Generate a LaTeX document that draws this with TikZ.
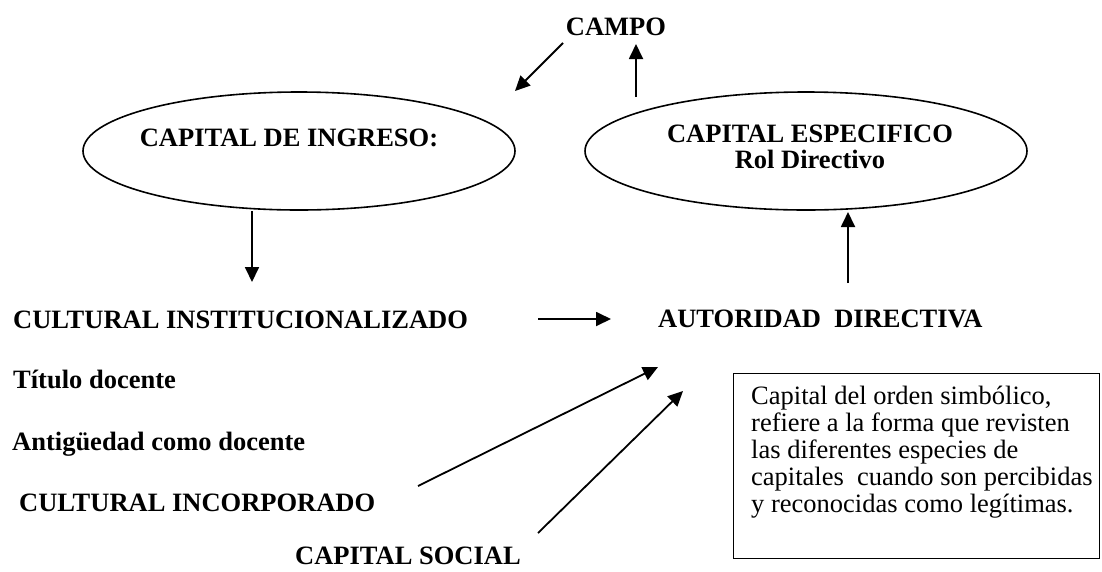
\documentclass[tikz,border=0pt]{standalone}
\usepackage{fontspec}
\setmainfont{Liberation Serif}
\usetikzlibrary{positioning,shapes.geometric,arrows.meta}

\tikzset{
  rotulo/.style={font=\fontsize{26.5}{30}\selectfont\bfseries, inner sep=0pt},
  flecha/.style={-{Triangle[length=15pt,width=14pt]}, line width=1.8pt},
  elipse/.style={draw, ellipse, line width=1.6pt, inner sep=0pt, minimum height=118pt},
}

\begin{document}
\begin{tikzpicture}[x=1pt,y=-1pt]
\useasboundingbox (0,0) rectangle (1102,571);

\node(campo)       [rotulo, anchor=base] at (616,35) {CAMPO};

\node(ingreso)     [elipse, minimum width=432pt] at (299,151) {};
\node(especifico)  [elipse, minimum width=442pt] at (806,151) {};
\node(tingreso)    [rotulo, anchor=base] at (289,146) {CAPITAL DE INGRESO:};
\node(tespecifico) [rotulo, anchor=base] at (810,142) {CAPITAL ESPECIFICO};
\node(rol)         [rotulo, anchor=base] at (810,168) {Rol Directivo};

\node(institucional) [rotulo, anchor=base west] at (13,328) {CULTURAL INSTITUCIONALIZADO};
\node(autoridad)     [rotulo, anchor=base west] at (658,327) {AUTORIDAD\ \ DIRECTIVA};
\node(titulo)        [rotulo, anchor=base west] at (13,388) {Título docente};
\node(antiguedad)    [rotulo, anchor=base west] at (12,450) {Antigüedad como docente};
\node(incorporado)   [rotulo, anchor=base west] at (19,511) {CULTURAL INCORPORADO};
\node(social)        [rotulo, anchor=base west] at (295,564) {CAPITAL SOCIAL};

\node(caja)  [draw, line width=1.4pt, minimum width=366pt, minimum height=185pt,
              anchor=north west] at (733,373) {};
\node(texto) [anchor=north west, inner sep=0pt, align=left,
              font=\fontsize{26.5}{27}\selectfont] at (751,386)
{Capital del orden simbólico,\\ refiere a la forma que revisten\\ las diferentes especies de\\
 capitales\ \ cuando son percibidas\\ y reconocidas como legítimas.};

% extremos de las flechas
\coordinate(campoA)  at (563,43);
\coordinate(campoB)  at (515,91);
\coordinate(subeA)   at (636,97);
\coordinate(subeB)   at (636,44);
\coordinate(bajaA)   at (252,211);
\coordinate(bajaB)   at (252,282);
\coordinate(hacia)   at (538,319);
\coordinate(llega)   at (611,319);
\coordinate(rolA)    at (848,283);
\coordinate(rolB)    at (848,212);
\coordinate(incA)    at (418,486);
\coordinate(incB)    at (658,367);
\coordinate(socA)    at (538,533);
\coordinate(socB)    at (683,391);

\draw[flecha](campoA) -- (campoB);
\draw[flecha](subeA)  -- (subeB);
\draw[flecha](bajaA)  -- (bajaB);
\draw[flecha](hacia)  -- (llega);
\draw[flecha](rolA)   -- (rolB);
\draw[flecha](incA)   -- (incB);
\draw[flecha](socA)   -- (socB);
\end{tikzpicture}
\end{document}
